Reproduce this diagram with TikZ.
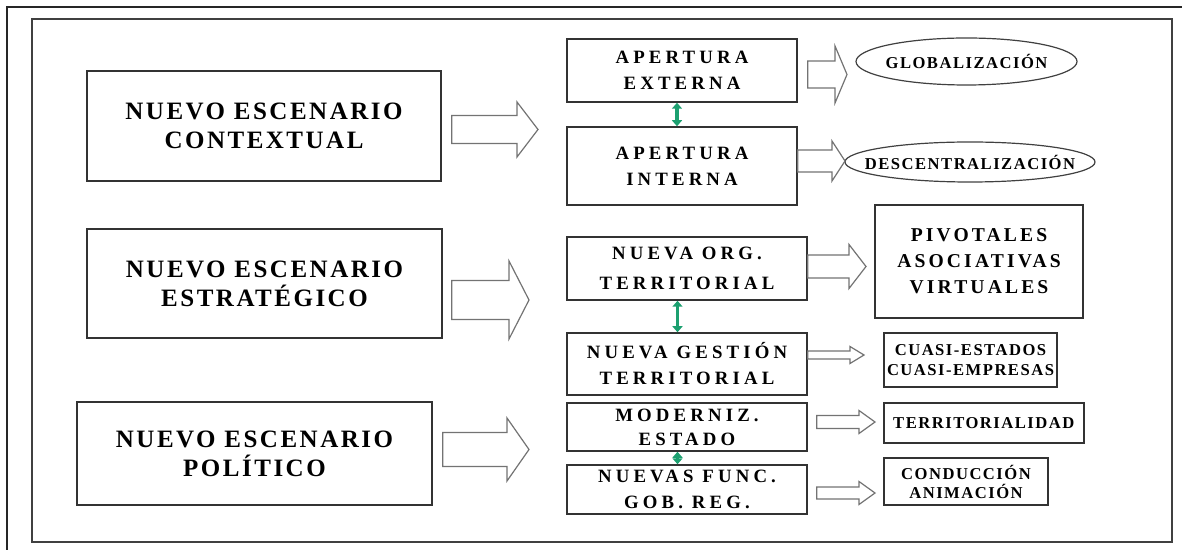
\documentclass[tikz,border=0pt]{standalone}
\usepackage{fontspec}
\setmainfont{Liberation Serif}
\newfontfamily\bigfont[LetterSpace=10]{Liberation Serif}
\newfontfamily\midfont[LetterSpace=22]{Liberation Serif}
\newfontfamily\pivfont[LetterSpace=16]{Liberation Serif}
\newfontfamily\smallfont[LetterSpace=9]{Liberation Serif}
\usepackage{tikz}
\usetikzlibrary{calc,shapes.geometric,arrows.meta}
\definecolor{linkgreen}{RGB}{28,160,112}
\newcommand{\BlockArrow}[5]{%
  \draw[blockarrow] ($(#1)+(0,#4)$) -- ($(#2)+(-#3,#4)$) -- ($(#2)+(-#3,#5)$) -- (#2)
    -- ($(#2)+(-#3,-#5)$) -- ($(#2)+(-#3,-#4)$) -- ($(#1)+(0,-#4)$) -- cycle;}
\tikzset{
  box/.style={draw=black!80, line width=0.75pt, align=center, inner sep=0pt},
  scenario/.style={box, font=\bigfont\bfseries\fontsize{12.5}{14.5}\selectfont},
  change/.style={box, font=\midfont\bfseries\fontsize{9.4}{13}\selectfont},
  result/.style={box, font=\smallfont\bfseries\fontsize{8.3}{10}\selectfont},
  oval/.style={ellipse, draw=black!75, line width=0.6pt, inner sep=0pt,
    font=\smallfont\bfseries\fontsize{8.3}{10}\selectfont},
  blockarrow/.style={draw=black!55, line width=0.6pt, fill=white, line join=miter},
  link/.style={draw=linkgreen, line width=1.8pt,
    {Triangle[length=3pt,width=5pt]}-{Triangle[length=3pt,width=5pt]}}
}
\begin{document}
\begin{tikzpicture}[x=0.5pt,y=-0.5pt]
    \useasboundingbox (0,0) rectangle (1182,550);
    % Frames
    \draw[black!85, line width=1pt] (7,550) -- (7,7) -- (1182,7);
    \draw[black!75, line width=0.75pt] (32,19) rectangle (1172,542);

    % Define nodes
    \node[scenario, minimum width=177pt, minimum height=55pt] (ctx) at (264,126) {NUEVO ESCENARIO\\CONTEXTUAL};
    \node[scenario, minimum width=177.5pt, minimum height=54.5pt] (est) at (264.5,283.5) {NUEVO ESCENARIO\\ESTRATÉGICO};
    \node[scenario, minimum width=177.5pt, minimum height=51.5pt] (pol) at (254.5,453.5) {NUEVO ESCENARIO\\POLÍTICO};

    \node[change, minimum width=115pt, minimum height=31.5pt] (ext) at (682,70.5) {APERTURA\\EXTERNA};
    \node[change, minimum width=115pt, minimum height=39pt] (int) at (682,166) {APERTURA\\INTERNA};
    \node[change, minimum width=120pt, minimum height=31.5pt, font=\midfont\bfseries\fontsize{9.4}{15}\selectfont] (org) at (687,268.5) {NUEVA ORG.\\TERRITORIAL};
    \node[change, minimum width=120pt, minimum height=31pt] (ges) at (687,364) {NUEVA GESTIÓN\\TERRITORIAL};
    \node[change, minimum width=120pt, minimum height=24pt, font=\midfont\bfseries\fontsize{9.4}{12}\selectfont] (mod) at (687,427) {MODERNIZ.\\ESTADO};
    \node[change, minimum width=120pt, minimum height=24.5pt] (fun) at (687,489.5) {NUEVAS FUNC.\\GOB. REG.};

    \node[oval, minimum width=110.5pt, minimum height=23.5pt] (glob) at (966.5,61.5) {\makebox[0pt]{GLOBALIZACIÓN}};
    \node[oval, minimum width=125pt, minimum height=20pt] (desc) at (970,162) {\makebox[0pt]{DESCENTRALIZACIÓN}};
    \node[change, minimum width=104pt, minimum height=56.5pt, font=\pivfont\bfseries\fontsize{9.8}{13}\selectfont] (piv) at (979,261.5) {PIVOTALES\\ASOCIATIVAS\\VIRTUALES};
    \node[result, minimum width=86.5pt, minimum height=27pt] (cua) at (970.5,360) {CUASI-ESTADOS\\CUASI-EMPRESAS};
    \node[result, minimum width=100pt, minimum height=20pt] (ter) at (983.75,423) {TERRITORIALIDAD};
    \node[result, minimum width=82pt, minimum height=23.5pt, font=\smallfont\bfseries\fontsize{8.3}{9.5}\selectfont] (con) at (966,481.5) {CONDUCCIÓN\\ANIMACIÓN};

    % Arrow ends
    \coordinate (ctxs) at ($(ctx.east)+(10,3.5)$);   \coordinate (ctxe) at (538,129.5);
    \coordinate (ests) at ($(est.east)+(9,16.5)$);   \coordinate (este) at (529,300);
    \coordinate (pols) at ($(pol.east)+(10,-4)$);    \coordinate (pole) at (529,449.5);
    \coordinate (exts) at ($(ext.east)+(10,4)$);     \coordinate (exte) at (847,74.5);
    \coordinate (ints) at ($(int.east)+(0,-5)$);     \coordinate (inte) at (845,161);
    \coordinate (orgs) at ($(org.east)+(0,-2)$);     \coordinate (orge) at (866,266.5);
    \coordinate (gess) at ($(ges.east)+(0,-9)$);     \coordinate (gese) at (864,355);
    \coordinate (mods) at ($(mod.east)+(9,-5)$);     \coordinate (mode) at (875,422);
    \coordinate (funs) at ($(fun.east)+(9,3.5)$);    \coordinate (fune) at (875,493);

    % Connect the nodes
    \BlockArrow{ctxs}{ctxe}{21}{14}{27.5}
    \BlockArrow{ests}{este}{20}{19.5}{39}
    \BlockArrow{pols}{pole}{22}{17}{31.5}
    \BlockArrow{exts}{exte}{12}{13.5}{28.5}
    \BlockArrow{ints}{inte}{13}{11}{20}
    \BlockArrow{orgs}{orge}{17}{11.5}{22}
    \BlockArrow{gess}{gese}{14}{4}{8.5}
    \BlockArrow{mods}{mode}{16}{6.5}{11.5}
    \BlockArrow{funs}{fune}{16}{6}{11.5}

    \draw[link] ([xshift=-2.5pt]ext.south) -- ([xshift=-2.5pt]int.north);
    \draw[link] ([xshift=-4.75pt]org.south) -- ([xshift=-4.75pt]ges.north);
    \draw[link] ([xshift=-4.75pt]mod.south) -- ([xshift=-4.75pt]fun.north);
\end{tikzpicture}
\end{document}
